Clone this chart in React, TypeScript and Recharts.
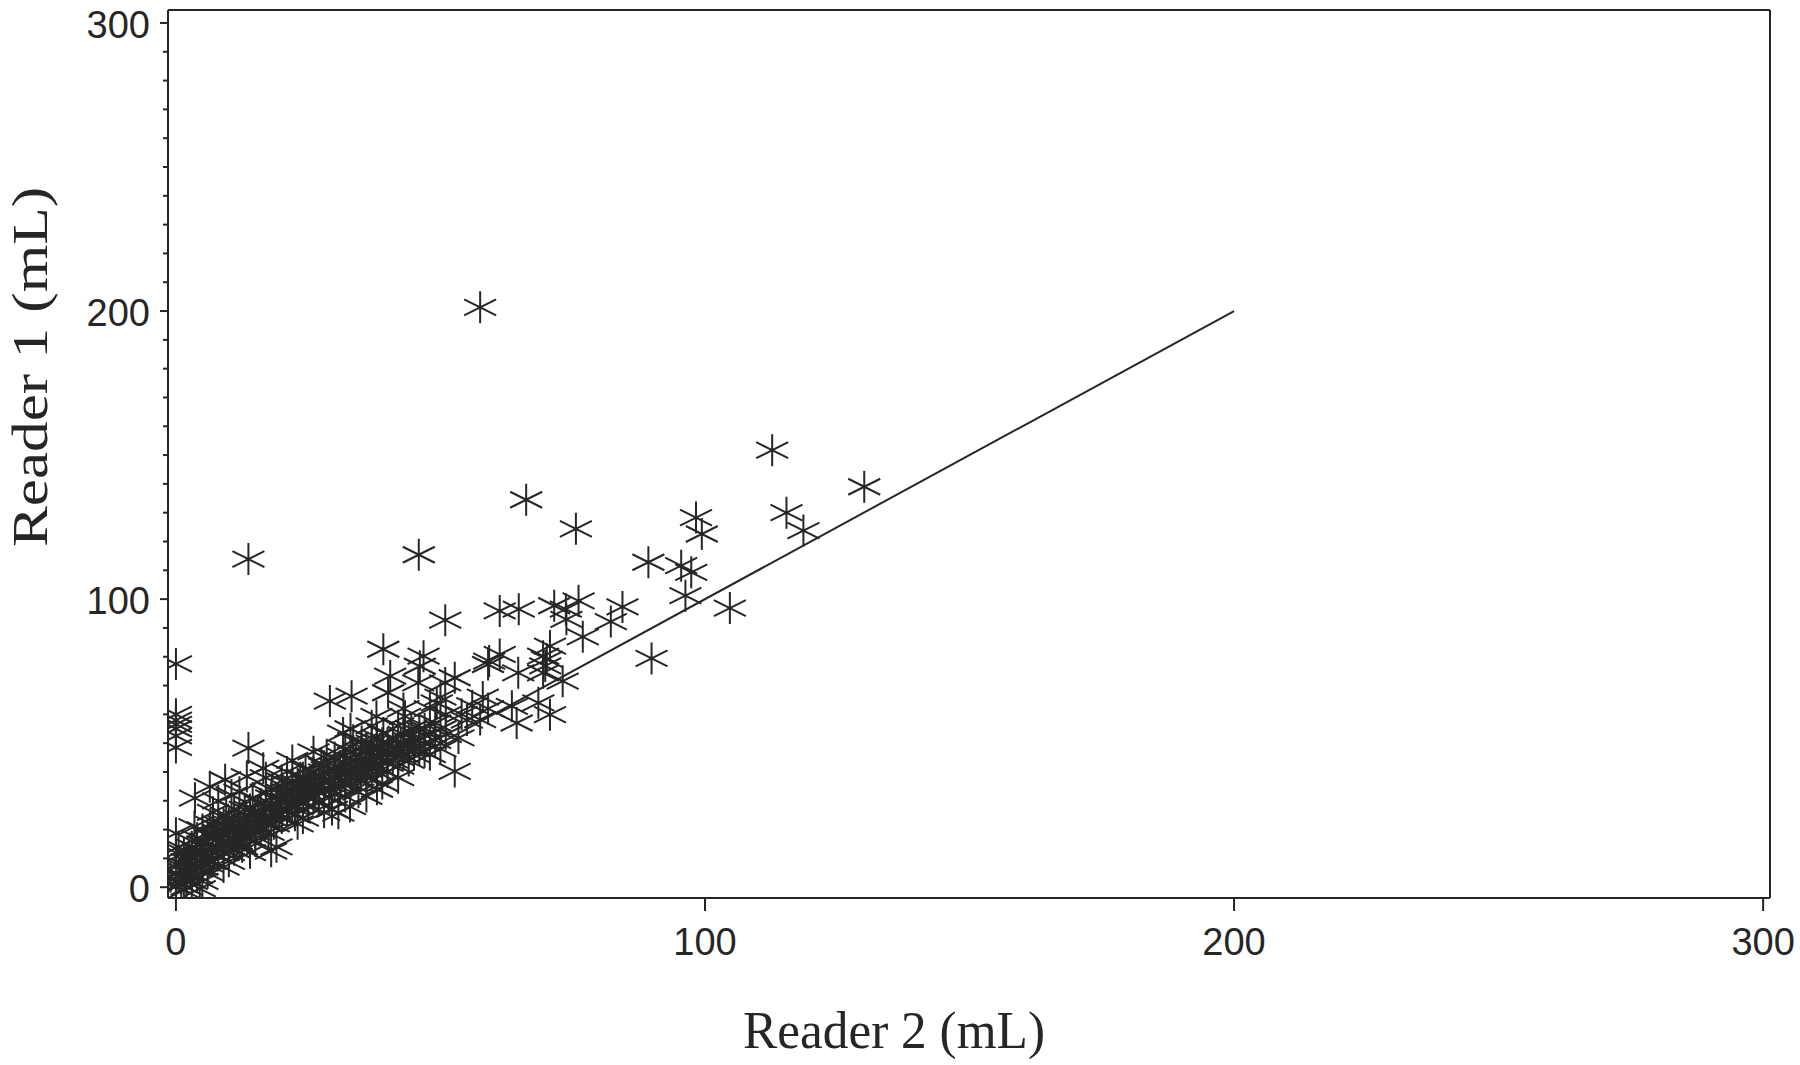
import React from 'react';
import { ScatterChart, Scatter, XAxis, YAxis, ReferenceLine } from 'recharts';

// [Reader 2 (mL), Reader 1 (mL)] pairs
const leftColumn: [number, number][] = [
  [0, 77.5], [0, 60], [0, 58], [0, 56.5], [0, 55], [0, 52.5], [0, 48.5],
];

const originCluster: [number, number][] = [
  [0, 0.5], [0, 2], [0.5, 4], [1, 1], [1, 6], [0, 8], [2, 3], [2, 9], [0, 12], [0.5, 14], [0, 18.7], [3, 5], [3, 10], [2, 0], [1.5, -1], [3, 2], [0, 5], [2.5, 7], [1.5, 12], [3, 14], [-1, 3.6],
  [4, 4], [4, 9], [4.5, 12], [5, 7], [5, 15], [5.5, 10], [6, 5], [6, 13], [4, 17], [5, 20], [3.5, 21], [6, 18], [5, 2], [6.5, 9], [4.5, -0.5],
  [7, 9], [7, 14], [7.5, 18], [8, 11], [8, 22], [8.5, 15], [9, 12], [9, 19], [9.5, 25], [10, 14], [10, 17], [7, 26], [8, 30], [10, 9], [9, 7], [6.5, 22], [10, 22], [3.6, 30.9], [6.4, 34.9], [9.3, 37.3],
];

const band: [number, number][] = [
  [11, 13], [11, 20], [11.5, 16], [12, 18], [12, 24], [12.5, 14], [13, 21], [13, 27], [13.5, 17], [14, 19], [14, 24], [14.5, 31], [15, 22], [15, 16], [11, 27], [12, 33], [13.4, 38.4], [10.5, 32], [14, 12],
  [15.5, 26], [16, 20], [16, 29], [16.5, 23], [17, 25], [17, 33], [17.5, 19], [18, 27], [18, 31], [18.5, 22], [19, 28], [18.1, 33.8], [19.5, 25], [20, 30], [20, 24], [16.5, 41.3], [18, 12.5], [19, 14], [20, 37], [17, 38],
  [21, 27], [21, 33], [21.5, 29], [22, 31], [22, 36], [22.5, 25], [23, 33], [23, 28], [23.5, 38], [24, 30], [24, 35], [24.5, 41], [25, 33], [25, 28], [21, 40], [22, 44], [23, 22], [24, 24],
  [25.5, 37], [26, 31], [26, 40], [26.5, 35], [27, 38], [27, 30], [27.5, 43], [28, 34], [28, 40], [28.5, 46], [29, 37], [29, 31], [30, 40], [30, 35], [30, 45], [29.5, 27], [28, 26], [30.7, 25.7], [26, 47],
  [31, 42], [31, 37], [31.6, 45.4], [32, 39], [32, 48], [32.9, 28], [33, 44], [33, 36], [33.5, 51], [34, 41], [34, 46], [35, 39], [35, 43], [34.5, 33], [33, 55], [32, 31.5],
  [36, 31.5], [36, 47.7], [36, 41], [36.5, 44], [37, 38], [37, 50], [37.5, 46], [38, 42], [38, 52], [38.5, 48], [39, 44], [39.2, 53.5], [40, 46], [40, 40], [40, 50], [39, 36], [37, 56], [38, 34],
  [41, 44], [41, 52], [41.5, 48], [42, 42], [42, 56], [42.5, 50], [43, 46], [43, 53], [44, 48], [44, 44], [44.5, 55], [45, 50], [45, 46], [42, 38], [43, 62],
  [46, 52], [46, 48], [47, 55], [47, 50], [48, 53], [48, 46], [49, 57], [49, 51], [50, 55], [50, 48], [51, 60], [51, 53], [48, 62], [50, 66],
  [55, 58], [56, 63], [54, 60], [58, 66], [59, 62],
];

const bandCore: [number, number][] = [
  [1, 3], [2, 5], [1, 8], [2.5, 11], [3.5, 7], [4, 13], [5, 10], [5.5, 16], [6, 8], [7, 12], [7, 17], [8, 14], [8, 19], [9, 16], [9, 22], [10, 12], [10, 19],
  [11, 17], [11, 23], [12, 15], [12, 21], [13, 18], [13, 24], [14, 21], [14, 27], [15, 19], [15, 25], [16, 23], [16, 26], [17, 22], [17, 28], [18, 24], [18, 29],
  [19, 26], [19, 31], [20, 27], [20, 33], [21, 30], [21, 36], [22, 28], [22, 33], [23, 30], [23, 36], [24, 32], [24, 38], [25, 31], [25, 36], [26, 34], [26, 38],
  [27, 33], [27, 36], [28, 37], [28, 42], [29, 34], [29, 40], [30, 38], [30, 42], [31, 35], [31, 40], [32, 42], [32, 36], [33, 40], [33, 47], [34, 38], [34, 44],
  [35, 41], [35, 47], [36, 44], [36, 38], [37, 42], [37, 48], [38, 45], [38, 40], [39, 47], [39, 50], [40, 43], [41, 47], [42, 45], [43, 49], [44, 51], [45, 48], [46, 55], [47, 47],
];

const spread: [number, number][] = [
  [57.5, 201.3], [112.7, 151.7], [130.1, 139.0], [66.2, 134.5], [75.6, 124.4], [45.9, 115.4], [13.7, 113.9], [98.3, 128.3], [99.4, 122.6], [115.4, 130.0], [118.6, 123.8],
  [89.3, 112.8], [95.5, 111.6], [97.4, 109.3], [96.3, 101.2], [104.7, 96.9], [89.9, 79.4], [50.9, 92.7], [61.2, 95.9], [64.8, 96.5], [71.5, 97.7], [73.7, 96.5], [76.1, 99.4],
  [84.4, 97.3], [82.2, 92.2], [73.8, 93.0], [76.9, 86.9], [70.7, 83.7], [61.2, 80.8], [59.2, 78.5], [69.4, 80.2], [69.8, 76.8], [64.7, 74.4], [73.1, 71.5], [69.4, 74.4],
  [63.5, 62.8], [68.5, 64.0], [70.7, 59.9], [39.2, 82.6], [46.8, 80.2], [59.0, 77.3], [70.1, 79.1], [40.5, 73.3], [46.1, 76.7], [45.8, 70.9], [50.9, 70.9], [52.7, 72.7],
  [40.1, 67.5], [29.1, 64.6], [33.2, 66.3], [49.3, 64.0], [57.5, 58.2], [64.4, 57.0], [53.4, 51.8], [52.7, 40.2], [35.1, 50.6], [31.6, 53.5], [37.9, 59.3], [43.3, 59.3], [13.7, 48.3],
];

const lineReader2 = [0, 200];
const lineReader1 = [0, 200];

const xTicks = [0, 100, 200, 300];
const yTicks = [0, 10, 20, 30, 40, 50, 60, 70, 80, 90, 100, 110, 120, 130, 140, 150, 160, 170, 180, 190, 200, 210, 220, 230, 240, 250, 260, 270, 280, 290, 300];
const yMajor = [0, 100, 200, 300];

const xDomain: [number, number] = [-1.5, 301.3];
const yDomain: [number, number] = [-3.75, 304.5];

const INK = '#262626';
const SANS = '"Liberation Sans", Arial, sans-serif';
const SERIF = '"Liberation Serif", "Times New Roman", serif';

const points = [...leftColumn, ...originCluster, ...band, ...bandCore, ...spread].map(([x, y]) => ({ x, y }));
const lineData = lineReader2.map((x, i) => ({ x, y: lineReader1[i] }));

const Asterisk = (props: any) => {
  const { cx, cy } = props;
  if (cx == null || cy == null) return <g />;
  const v = 16, h = 16, d = 8;
  return (
    <path
      d={`M${cx},${cy - v}L${cx},${cy + v}M${cx - h},${cy - d}L${cx + h},${cy + d}M${cx - h},${cy + d}L${cx + h},${cy - d}`}
      stroke={INK}
      strokeWidth={2}
      fill="none"
    />
  );
};

const NoDot = () => <g />;

const YTick = (props: any) => {
  const { x, y, payload } = props;
  const v = payload.value;
  const major = yMajor.includes(v);
  return (
    <g>
      <line x1={x} x2={x - (major ? 8 : 5)} y1={y} y2={y} stroke={INK} strokeWidth={2} />
      {major && (
        <text x={x - 18} y={y + 15} textAnchor="end" fontSize={38} fontFamily={SANS} fill={INK}>
          {v}
        </text>
      )}
    </g>
  );
};

const XTick = (props: any) => {
  const { x, y, payload } = props;
  return (
    <g>
      <line x1={x} x2={x} y1={y} y2={y + 13} stroke={INK} strokeWidth={2} />
      <text x={x} y={y + 57} textAnchor="middle" fontSize={38} fontFamily={SANS} fill={INK}>
        {payload.value}
      </text>
    </g>
  );
};

const XTitle = () => (
  <text x={894} y={1048} textAnchor="middle" fontSize={52} fontFamily={SERIF} fill={INK} textLength={302} lengthAdjust="spacingAndGlyphs">
    Reader 2 (mL)
  </text>
);

const YTitle = () => (
  <text x={-367} y={47} transform="rotate(-90)" textAnchor="middle" fontSize={50} fontFamily={SERIF} fill={INK} textLength={360} lengthAdjust="spacingAndGlyphs">
    Reader 1 (mL)
  </text>
);

export default function App() {
  return (
    <div style={{ position: 'absolute', left: 0, top: 0, background: '#fff' }}>
      <ScatterChart width={1800} height={1065} margin={{ top: 10, right: 30, bottom: 107, left: 8 }}>
        <XAxis
          dataKey="x"
          type="number"
          domain={xDomain}
          ticks={xTicks}
          interval={0}
          allowDataOverflow
          height={60}
          axisLine={{ stroke: INK, strokeWidth: 2 }}
          tickLine={false}
          tickSize={0}
          tickMargin={0}
          tick={<XTick />}
          label={{ content: () => <XTitle /> }}
        />
        <YAxis
          dataKey="y"
          type="number"
          domain={yDomain}
          ticks={yTicks}
          interval={0}
          allowDataOverflow
          width={160}
          axisLine={{ stroke: INK, strokeWidth: 2 }}
          tickLine={false}
          tickSize={0}
          tickMargin={0}
          tick={<YTick />}
          label={{ content: () => <YTitle /> }}
        />
        <ReferenceLine y={yDomain[1]} stroke={INK} strokeWidth={2} ifOverflow="extendDomain" />
        <ReferenceLine x={xDomain[1]} stroke={INK} strokeWidth={2} ifOverflow="extendDomain" />
        <Scatter data={points} shape={<Asterisk />} isAnimationActive={false} />
        <Scatter data={lineData} shape={<NoDot />} line={{ stroke: INK, strokeWidth: 2 }} lineType="joint" isAnimationActive={false} />
      </ScatterChart>
    </div>
  );
}
